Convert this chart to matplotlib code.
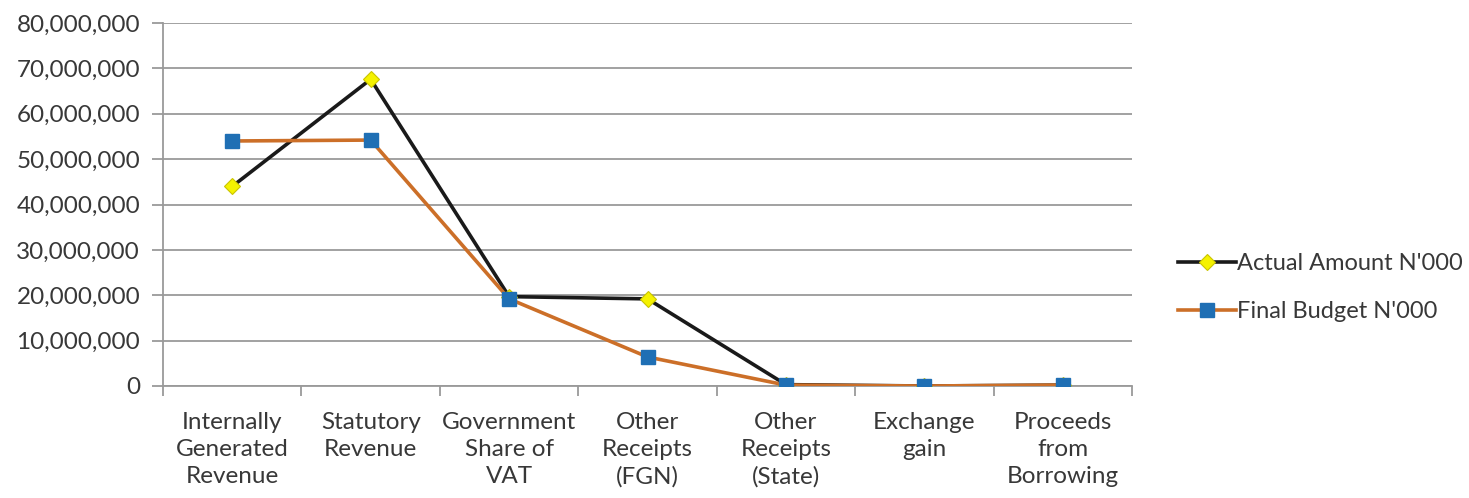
import matplotlib
matplotlib.use("Agg")
import matplotlib.pyplot as plt
from matplotlib.ticker import FuncFormatter, MultipleLocator

categories = ["Internally\nGenerated\nRevenue", "Statutory\nRevenue", "Government\nShare of\nVAT",
              "Other\nReceipts\n(FGN)", "Other\nReceipts\n(State)", "Exchange\ngain", "Proceeds\nfrom\nBorrowing"]
actual = [44000000, 67600000, 19700000, 19200000, 300000, 0, 200000]
budget = [54000000, 54200000, 19200000, 6400000, 200000, 0, 200000]
series_names = ["Actual Amount N'000", "Final Budget N'000"]

plt.rcParams['font.family'] = ['Lato', 'DejaVu Sans']
fig = plt.figure(figsize=(14.69, 4.98), dpi=100)
ax = fig.add_axes([0.111, 0.2249, 0.6596, 0.7289])

FS = 17.5
x = list(range(len(categories)))
grid_c = "#9a9a9a"
ax.plot(x, actual, color="#1a1a1a", lw=2.6, marker="D", ms=8, mfc="#f5f200",
        mec="#c9c400", mew=0.8, zorder=3, label=series_names[0])
ax.plot(x, budget, color="#cc6f28", lw=2.6, marker="s", ms=9.5, mfc="#1f6fb4",
        mec="#1f6fb4", zorder=4, label=series_names[1])

ax.set_xlim(-0.5, len(categories) - 0.5)
ax.set_ylim(0, 80000000)
ax.yaxis.set_major_locator(MultipleLocator(10000000))
ax.yaxis.set_major_formatter(FuncFormatter(lambda v, p: f"{int(v):,}"))
ax.grid(axis="y", color=grid_c, lw=1.3)
ax.set_axisbelow(True)
for s in ["top", "right"]:
    ax.spines[s].set_visible(False)
for s in ["left", "bottom"]:
    ax.spines[s].set_color(grid_c)
    ax.spines[s].set_linewidth(1.3)

ax.set_xticks(x)
ax.set_xticklabels(categories, fontsize=FS, color="#383838", linespacing=1.33)
ax.set_xticks([i - 0.5 for i in range(len(categories) + 1)], minor=True)
ax.tick_params(axis="x", which="major", length=0, pad=19)
ax.tick_params(axis="x", which="minor", length=7, color=grid_c, width=1.3)
ax.tick_params(axis="y", length=8, color=grid_c, width=1.3, labelsize=FS, labelcolor="#383838", pad=8.5)

leg = fig.legend(loc="center left", bbox_to_anchor=(0.802, 0.4227), frameon=False,
                 fontsize=17, handlelength=2.45, handletextpad=0.05, labelspacing=1.15,
                 borderaxespad=0, borderpad=0)
for t in leg.get_texts():
    t.set_color("#383838")

fig.savefig("out.png", dpi=100)
